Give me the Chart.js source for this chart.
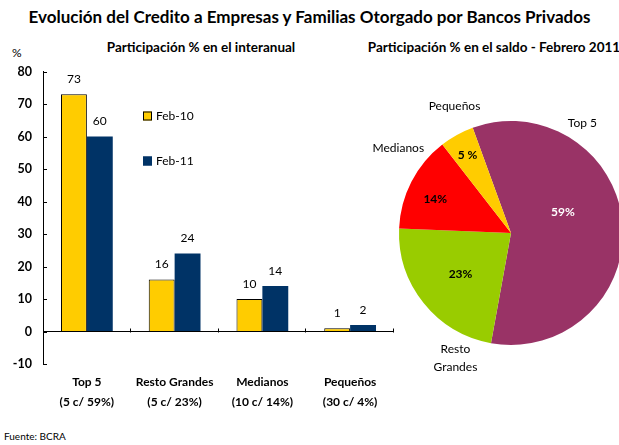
<!DOCTYPE html>
<html>
<head>
<meta charset="utf-8">
<script src="https://cdn.jsdelivr.net/npm/chart.js@4/dist/chart.umd.min.js"></script>
<style>
    html, body { margin: 0; padding: 0; background: #fff; overflow: hidden; }
    body { width: 619px; height: 445px; position: relative; font-family: Lato, "DejaVu Sans", sans-serif; color: #000; }
    .txt { position: absolute; white-space: nowrap; }
    #title { left: 0; width: 619px; top: 6px; text-align: center; font-weight: bold; font-size: 17px; }
    #sub1 { left: 201px; top: 39px; transform: translateX(-50%); font-weight: bold; font-size: 13.5px; }
    #sub2 { left: 494px; top: 39px; transform: translateX(-50%); font-weight: bold; font-size: 13.5px; }
    #pct { left: 12px; top: 45px; font-size: 12px; }
    #src { left: 4px; top: 430px; font-size: 10px; }
    #barWrap { position: absolute; left: 0; top: 53px; width: 400px; height: 367px; }
    #pieWrap { position: absolute; left: 360px; top: 60px; width: 280px; height: 360px; }
</style>
</head>
<body>

<div id="title" class="txt">Evolución del Credito a Empresas y Familias Otorgado por Bancos Privados</div>
<div id="sub1" class="txt">Participación % en el interanual</div>
<div id="sub2" class="txt">Participación % en el saldo - Febrero 2011</div>
<div id="pct" class="txt">%</div>
<div id="src" class="txt">Fuente: BCRA</div>

<div id="barWrap"><canvas id="barChart" width="400" height="367"></canvas></div>
<div id="pieWrap"><canvas id="pieChart" width="280" height="360"></canvas></div>

<script>

// =====================
// DATA
// =====================

const CATEGORIES = [
    ["Top 5", "(5 c/ 59%)"],
    ["Resto Grandes", "(5 c/ 23%)"],
    ["Medianos", "(10 c/ 14%)"],
    ["Pequeños", "(30 c/ 4%)"]
];

const FEB_10 = [73, 16, 10, 1];
const FEB_11 = [60, 24, 14, 2];

const Y_MIN = -10;
const Y_MAX = 80;
const Y_STEP = 10;

const PIE_LABELS = ["Top 5", ["Resto", "Grandes"], "Medianos", "Pequeños"];
const PIE_VALUES = [59, 23, 14, 5];
const PIE_TEXT = ["59%", "23%", "14%", "5 %"];


// =====================
// COLORS / FONTS
// =====================

const YELLOW = '#FFCC00';
const BLUE = '#003366';
const FONT = 'Lato, "DejaVu Sans", sans-serif';

Chart.defaults.font.family = FONT;
Chart.defaults.color = '#000';


// =====================
// BAR CHART
// =====================

const barExtras = {
    id: 'barExtras',
    afterDraw(chart) {
        const ctx = chart.ctx;
        const area = chart.chartArea;
        const y = chart.scales.y;

        ctx.save();
        ctx.strokeStyle = '#000';
        ctx.lineWidth = 1;

        // inward ticks on the value axis
        y.ticks.forEach(t => {
            const py = Math.round(y.getPixelForValue(t.value)) + 0.5;
            ctx.beginPath();
            ctx.moveTo(area.left, py);
            ctx.lineTo(area.left + 4, py);
            ctx.stroke();
        });

        // category separators on the zero line
        const zero = Math.round(y.getPixelForValue(0)) + 0.5;
        const step = (area.right - area.left) / CATEGORIES.length;
        for (let i = 1; i <= CATEGORIES.length; i++) {
            const px = Math.round(area.left + step * i) - 0.5;
            ctx.beginPath();
            ctx.moveTo(px, zero);
            ctx.lineTo(px, zero - 4);
            ctx.stroke();
        }

        // value labels
        ctx.font = '12px ' + FONT;
        ctx.fillStyle = '#000';
        ctx.textAlign = 'center';
        ctx.textBaseline = 'bottom';
        chart.data.datasets.forEach((ds, di) => {
            chart.getDatasetMeta(di).data.forEach((bar, i) => {
                ctx.fillText(ds.data[i], bar.x, bar.y - 9);
            });
        });

        // legend
        const items = [
            { text: 'Feb-10', color: YELLOW, border: '#000', y: 63 },
            { text: 'Feb-11', color: BLUE, border: BLUE, y: 108 }
        ];
        ctx.textAlign = 'left';
        ctx.textBaseline = 'middle';
        items.forEach(it => {
            ctx.fillStyle = it.color;
            ctx.fillRect(143, it.y - 4.5, 9, 9);
            ctx.strokeStyle = it.border;
            ctx.strokeRect(143.5, it.y - 4, 8, 8);
            ctx.fillStyle = '#000';
            ctx.fillText(it.text, 156, it.y);
        });

        ctx.restore();
    }
};

new Chart(document.getElementById('barChart'), {
    type: 'bar',
    data: {
        labels: CATEGORIES,
        datasets: [{
            label: 'Feb-10',
            data: FEB_10,
            backgroundColor: YELLOW,
            borderColor: '#000',
            borderWidth: 1,
            borderSkipped: 'bottom'
        }, {
            label: 'Feb-11',
            data: FEB_11,
            backgroundColor: BLUE,
            borderWidth: 0
        }]
    },
    options: {
        responsive: false,
        maintainAspectRatio: false,
        animation: false,
        layout: { padding: { top: 7, right: 6, left: 0, bottom: 0 } },
        datasets: {
            bar: { categoryPercentage: 0.59, barPercentage: 1 }
        },
        plugins: {
            legend: { display: false },
            tooltip: { enabled: false }
        },
        scales: {
            x: {
                grid: { display: false, drawTicks: false },
                border: { display: false },
                ticks: {
                    font: { size: 12, weight: 'bold', lineHeight: 1.6 },
                    color: '#000',
                    padding: 9,
                    maxRotation: 0,
                    autoSkip: false
                },
                afterFit(scale) { scale.height = 56; }
            },
            y: {
                min: Y_MIN,
                max: Y_MAX,
                ticks: {
                    stepSize: Y_STEP,
                    font: { size: 12.5, weight: 'bold' },
                    color: '#000',
                    padding: 11
                },
                grid: {
                    drawTicks: false,
                    color: ctx => ctx.tick && ctx.tick.value === 0 ? '#000' : 'rgba(0,0,0,0)'
                },
                border: { color: '#000', width: 1 },
                afterFit(scale) { scale.width = 43; }
            }
        }
    },
    plugins: [barExtras]
});


// =====================
// PIE CHART
// =====================

// label placement around the pie: [angle from 12 o'clock in degrees, distance as fraction of radius]
const OUTER_POS = [[33, 1.17], [204, 1.22], [307, 1.26], [336, 1.24]];
const INNER_POS = [[68, 0.5], [231, 0.58], [294, 0.74], [331, 0.8]];

const pieLabels = {
    id: 'pieLabels',
    afterDraw(chart) {
        const ctx = chart.ctx;
        const meta = chart.getDatasetMeta(0);
        ctx.save();
        ctx.textAlign = 'center';
        ctx.textBaseline = 'middle';

        meta.data.forEach((arc, i) => {
            const r = arc.outerRadius;

            // inner percentage
            const b = (INNER_POS[i][0] - 90) * Math.PI / 180;
            ctx.font = 'bold 12px ' + FONT;
            ctx.fillStyle = i === 0 ? '#fff' : '#000';
            ctx.fillText(PIE_TEXT[i],
                arc.x + Math.cos(b) * r * INNER_POS[i][1],
                arc.y + Math.sin(b) * r * INNER_POS[i][1]);

            // outer name
            const a = (OUTER_POS[i][0] - 90) * Math.PI / 180;
            const ox = arc.x + Math.cos(a) * r * OUTER_POS[i][1];
            const oy = arc.y + Math.sin(a) * r * OUTER_POS[i][1];
            ctx.font = '12px ' + FONT;
            ctx.fillStyle = '#000';
            const lines = [].concat(PIE_LABELS[i]);
            lines.forEach((ln, k) => {
                ctx.fillText(ln, ox, oy + (k - (lines.length - 1) / 2) * 18);
            });
        });

        ctx.restore();
    }
};

new Chart(document.getElementById('pieChart'), {
    type: 'pie',
    data: {
        labels: PIE_LABELS,
        datasets: [{
            data: PIE_VALUES,
            backgroundColor: ['#993366', '#99CC00', '#FF0000', '#FFCC00'],
            borderWidth: 0
        }]
    },
    options: {
        responsive: false,
        maintainAspectRatio: false,
        animation: false,
        rotation: -20,
        layout: { padding: { left: 39, right: 17, top: 61, bottom: 75 } },
        plugins: {
            legend: { display: false },
            tooltip: { enabled: false }
        }
    },
    plugins: [pieLabels]
});

</script>
</body>
</html>
